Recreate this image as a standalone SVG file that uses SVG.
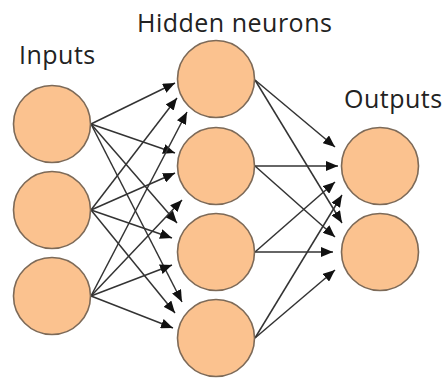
<svg xmlns="http://www.w3.org/2000/svg" width="444" height="379" viewBox="0 0 444 379">
<style>
.n{fill:#FBC28F;stroke:#7d6a58;stroke-width:1.6}
.c line{stroke:#333;stroke-width:1.5;marker-end:url(#ah)}
.t{font-family:"Open Sans","Noto Sans",sans-serif;font-size:25px;fill:#222;letter-spacing:0.5px}
</style>
<defs>
<marker id="ah" markerUnits="userSpaceOnUse" markerWidth="12" markerHeight="10" refX="12" refY="5" orient="auto">
<path d="M0,0 L12,5 L0,10 z" fill="#111"/>
</marker>
</defs>
<rect width="444" height="379" fill="#fff"/>
<text class="t" x="19" y="64">Inputs</text>
<text class="t" x="137" y="32">Hidden neurons</text>
<text class="t" x="344" y="108">Outputs</text>
<g class="c" id="connectors">
<line x1="91" y1="124" x2="175" y2="83"/>
<line x1="91" y1="124" x2="175" y2="153"/>
<line x1="91" y1="124" x2="177" y2="223"/>
<line x1="91" y1="124" x2="182" y2="302"/>
<line x1="91" y1="210" x2="177" y2="98"/>
<line x1="91" y1="210" x2="175" y2="173"/>
<line x1="91" y1="210" x2="172" y2="238"/>
<line x1="91" y1="210" x2="175" y2="313"/>
<line x1="91" y1="296" x2="187" y2="112"/>
<line x1="91" y1="296" x2="182" y2="200"/>
<line x1="91" y1="296" x2="172" y2="265"/>
<line x1="91" y1="296" x2="173" y2="328"/>
<line x1="255" y1="80" x2="335" y2="147"/>
<line x1="255" y1="80" x2="342" y2="223"/>
<line x1="255" y1="166" x2="338" y2="166"/>
<line x1="255" y1="166" x2="335" y2="237"/>
<line x1="255" y1="252" x2="335" y2="182"/>
<line x1="255" y1="252" x2="333" y2="252"/>
<line x1="255" y1="338" x2="342" y2="195"/>
<line x1="255" y1="338" x2="335" y2="270"/>
</g>
<g id="in1"><circle class="n" cx="52" cy="124" r="38.5"/></g>
<g id="in2"><circle class="n" cx="52" cy="210" r="38.5"/></g>
<g id="in3"><circle class="n" cx="52" cy="296" r="38.5"/></g>
<g id="h1"><circle class="n" cx="216" cy="79" r="38.5"/></g>
<g id="h2"><circle class="n" cx="216" cy="166" r="38.5"/></g>
<g id="h3"><circle class="n" cx="216" cy="252" r="38.5"/></g>
<g id="h4"><circle class="n" cx="216" cy="338" r="38.5"/></g>
<g id="out1"><circle class="n" cx="380" cy="166" r="38.5"/></g>
<g id="out2"><circle class="n" cx="380" cy="252" r="38.5"/></g>
</svg>
